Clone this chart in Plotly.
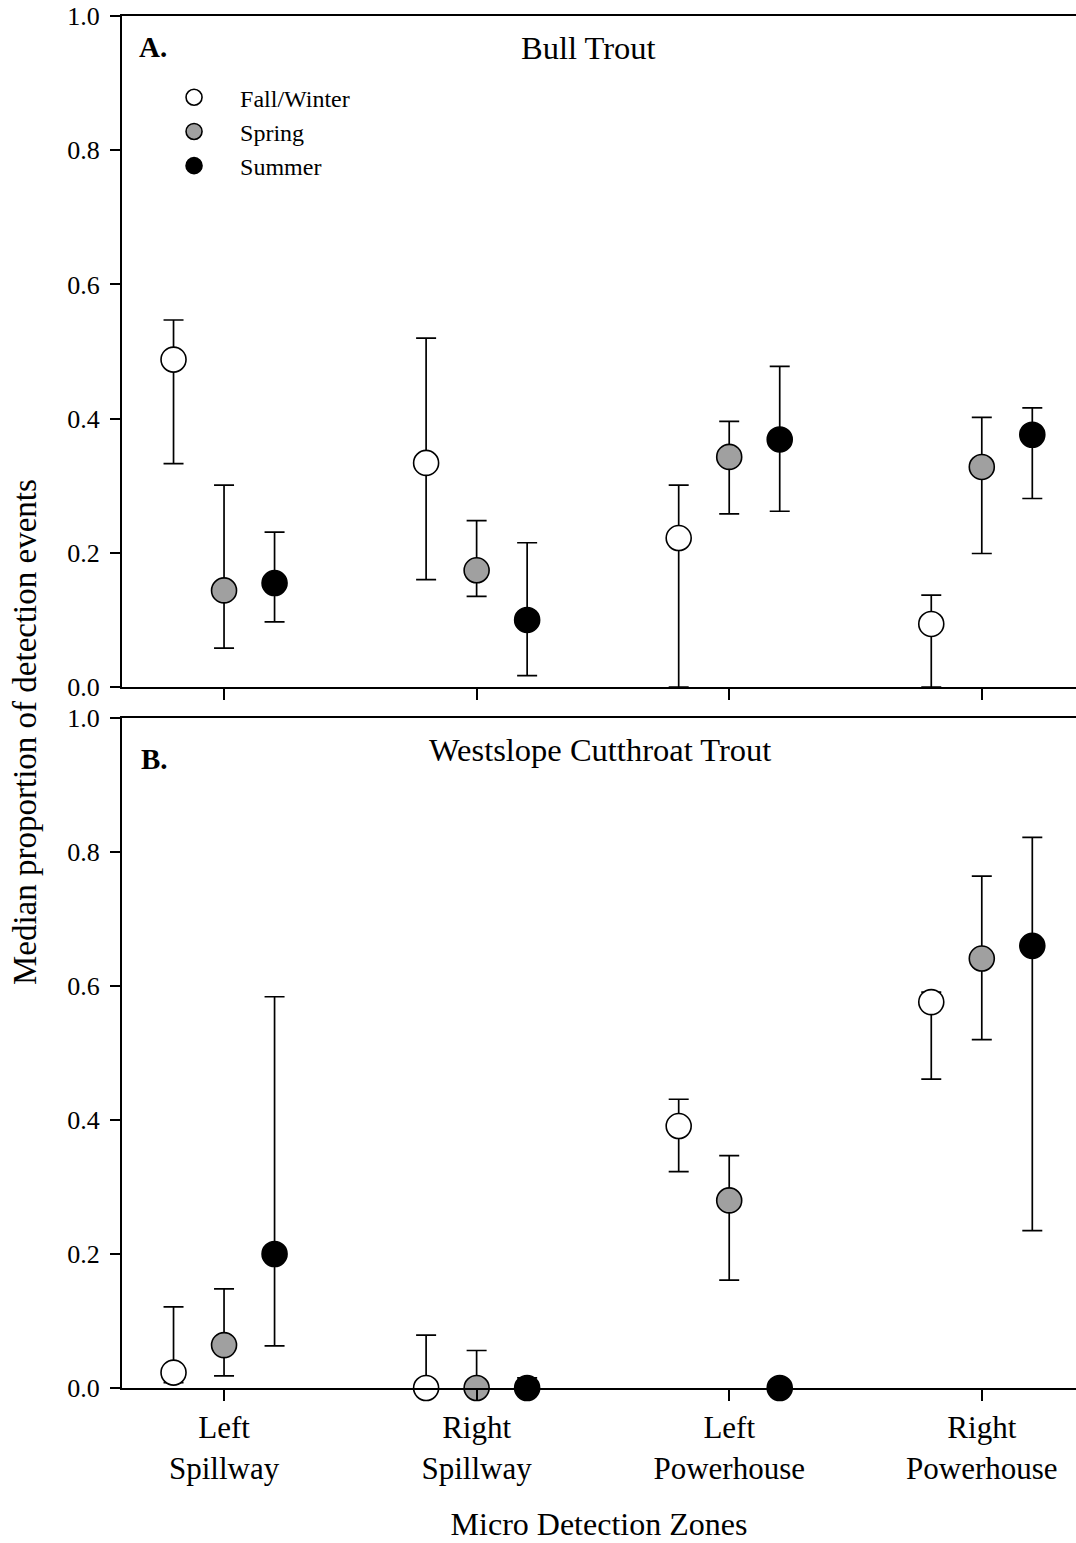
import plotly.graph_objects as go

# ---------------- data ----------------
zones = ["Left Spillway", "Right Spillway", "Left Powerhouse", "Right Powerhouse"]
seasons = ["Fall/Winter", "Spring", "Summer"]
yticks = [0.0, 0.2, 0.4, 0.6, 0.8, 1.0]

# Panel A: Bull Trout (median, lower, upper)
bt_fall_med = [0.488, 0.334, 0.222, 0.094]
bt_fall_lo = [0.333, 0.160, 0.0, 0.0]
bt_fall_hi = [0.547, 0.520, 0.301, 0.137]
bt_spring_med = [0.144, 0.174, 0.343, 0.328]
bt_spring_lo = [0.058, 0.135, 0.258, 0.199]
bt_spring_hi = [0.301, 0.248, 0.396, 0.402]
bt_summer_med = [0.155, 0.100, 0.369, 0.376]
bt_summer_lo = [0.097, 0.017, 0.262, 0.281]
bt_summer_hi = [0.231, 0.215, 0.478, 0.416]

# Panel B: Westslope Cutthroat Trout
wct_fall_med = [0.023, 0.0, 0.391, 0.576]
wct_fall_lo = [0.008, 0.0, 0.323, 0.461]
wct_fall_hi = [0.121, 0.079, 0.431, 0.591]
wct_spring_med = [0.064, 0.0, 0.280, 0.641]
wct_spring_lo = [0.018, 0.0, 0.161, 0.520]
wct_spring_hi = [0.148, 0.056, 0.347, 0.764]
wct_summer_med = [0.200, 0.0, 0.0, 0.660]
wct_summer_lo = [0.063, 0.0, 0.0, 0.235]
wct_summer_hi = [0.584, 0.015, 0.0, 0.822]

# ---------------- styling ----------------
FONT = "Liberation Serif, Times New Roman, serif"
fills = {"Fall/Winter": "white", "Spring": "#a0a0a0", "Summer": "black"}
offsets = {"Fall/Winter": -0.2, "Spring": 0.0, "Summer": 0.2}
base = list(range(1, len(zones) + 1))

panels = [
    ("x", "y", {
        "Fall/Winter": (bt_fall_med, bt_fall_lo, bt_fall_hi),
        "Spring": (bt_spring_med, bt_spring_lo, bt_spring_hi),
        "Summer": (bt_summer_med, bt_summer_lo, bt_summer_hi),
    }, True),
    ("x2", "y2", {
        "Fall/Winter": (wct_fall_med, wct_fall_lo, wct_fall_hi),
        "Spring": (wct_spring_med, wct_spring_lo, wct_spring_hi),
        "Summer": (wct_summer_med, wct_summer_lo, wct_summer_hi),
    }, False),
]

fig = go.Figure()
for xa, ya, series, show in panels:
    for s in seasons:
        med, lo, hi = series[s]
        fig.add_trace(go.Scatter(
            x=[b + offsets[s] for b in base],
            y=med,
            mode="markers",
            name=s,
            showlegend=show,
            legendgroup=s,
            xaxis=xa, yaxis=ya,
            cliponaxis=False,
            marker=dict(size=25, color=fills[s], line=dict(color="black", width=1.6)),
            error_y=dict(type="data", symmetric=False,
                         array=[h - m for h, m in zip(hi, med)],
                         arrayminus=[m - l for m, l in zip(med, lo)],
                         color="black", thickness=1.7, width=10),
        ))

XR = [0.596, 4.373]
common_x = dict(range=XR, tickvals=base, ticks="outside", ticklen=11, tickwidth=2,
                tickcolor="black", showline=True, linewidth=2, linecolor="black",
                mirror=True, showgrid=False, zeroline=False)
common_y = dict(range=[0, 1], tickvals=yticks, ticktext=[f"{v:.1f}" for v in yticks],
                ticks="outside", ticklen=10, tickwidth=2, tickcolor="black",
                showline=True, linewidth=2, linecolor="black", showgrid=False,
                zeroline=False, tickfont=dict(family=FONT, size=26, color="black"),
                ticklabelstandoff=5)

H = 1543
fig.update_layout(
    width=1076, height=H,
    margin=dict(l=122, r=0, t=16, b=155),
    paper_bgcolor="white", plot_bgcolor="white",
    font=dict(family=FONT, color="black"),
    xaxis=dict(**common_x, anchor="y", domain=[0, 1], showticklabels=False),
    yaxis=dict(**common_y, anchor="x", domain=[0.5109, 1]),
    xaxis2=dict(**common_x, anchor="y2", domain=[0, 1],
                ticktext=[z.replace(" ", "<br>") for z in zones],
                tickfont=dict(family=FONT, size=31, color="black"),
                title=dict(text="Micro Detection Zones", font=dict(family=FONT, size=32),
                           standoff=28)),
    yaxis2=dict(**common_y, anchor="x2", domain=[0, 0.4883]),
    legend=dict(x=0.0273, y=0.9569, xanchor="left", yanchor="top",
                font=dict(family=FONT, size=24, color="black"),
                bgcolor="rgba(0,0,0,0)", itemwidth=82, tracegroupgap=0),
    showlegend=True,
    annotations=[
        dict(text="Median proportion of detection events", textangle=-90,
             xref="paper", yref="paper", x=0, y=0.4781, xshift=-97,
             xanchor="center", yanchor="middle", showarrow=False,
             font=dict(family=FONT, size=33, color="black")),
        dict(text="Bull Trout", xref="paper", yref="paper", x=0.4885, y=0.9767,
             xanchor="center", yanchor="middle", showarrow=False,
             font=dict(family=FONT, size=32.5, color="black")),
        dict(text="Westslope Cutthroat Trout", xref="paper", yref="paper", x=0.501, y=0.465,
             xanchor="center", yanchor="middle", showarrow=False,
             font=dict(family=FONT, size=32.5, color="black")),
        dict(text="<b>A.</b>", xref="paper", yref="paper", x=0.0157, y=0.9774,
             xanchor="left", yanchor="middle", showarrow=False,
             font=dict(family=FONT, size=29, color="black")),
        dict(text="<b>B.</b>", xref="paper", yref="paper", x=0.0178, y=0.4585,
             xanchor="left", yanchor="middle", showarrow=False,
             font=dict(family=FONT, size=29, color="black")),
    ],
)

fig.write_html("out.html")
